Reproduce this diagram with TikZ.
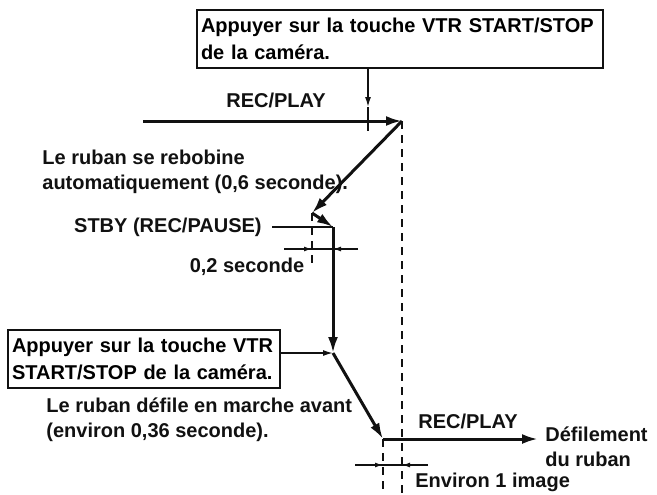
\documentclass[tikz,border=0pt]{standalone}
\usepackage{fontspec}
\setmainfont{Liberation Sans}
\usepackage{xcolor}
\usepackage{tikz}
\usetikzlibrary{arrows.meta,positioning,calc}
\definecolor{Ink}{HTML}{111111}
\tikzset{
  keybox/.style={draw=Ink,line width=1pt,align=left,inner xsep=2pt,inner ysep=3pt,
              minimum height=29pt,font=\fontsize{10}{13.5}\selectfont\bfseries},
  tape/.style={-{Latex[length=8pt,width=5pt]},line width=1.5pt,draw=Ink},
  cue/.style={-{Latex[length=5pt,width=3pt]},line width=0.75pt,draw=Ink},
  guide/.style={dashed,dash pattern=on 4pt off 3pt,line width=0.7pt,draw=Ink},
  dimline/.style={-{Latex[length=4pt,width=2.5pt]},line width=0.7pt,draw=Ink},
  note/.style={font=\fontsize{10}{12.5}\selectfont\bfseries,text=Ink,inner sep=1pt}
}
\begin{document}
\begin{tikzpicture}[x=0.5pt,y=-0.5pt]
  \useasboundingbox (0,0) rectangle (657,494);
  % points of the tape trace
  \coordinate (start) at (143,121);
  \coordinate (peak) at (402,121);
  \coordinate (stby) at (312,213);
  \coordinate (kink) at (333,227);
  \coordinate (resume) at (333,353);
  \coordinate (low) at (383,439);
  \coordinate (stop) at (538,439);
  \coordinate (bottom) at (0,494);
  \coordinate (cue1) at (368,107);
  \coordinate (gapy) at (0,249);
  \coordinate (framey) at (0,465);
  % boxes
  \node[keybox,text width=199pt] (key1) at (400,39) {Appuyer sur la touche VTR START/STOP\\de la caméra.};
  \node[keybox,text width=132pt] (key2) at (144,359) {Appuyer sur la touche VTR\\START/STOP de la caméra.};
  % texts
  \node[note] (play1) at (276,100) {REC/PLAY};
  \node[note,anchor=west,align=left] (rewind) at (40,172) {Le ruban se rebobine\\automatiquement (0,6 seconde).};
  \node[note,anchor=east] (pause) at (264,227) {STBY (REC/PAUSE)};
  \node[note] (gap) at (247,267) {0,2 seconde};
  \node[note,anchor=west,align=left] (advance) at (44,420) {Le ruban défile en marche avant\\(environ 0,36 seconde).};
  \node[note] (play2) at (468,421) {REC/PLAY};
  \node[note,anchor=west,align=left] (tapeend) at (543,447) {Défilement\\du ruban};
  \node[note,anchor=west] (frame) at (413,482) {Environ 1 image};
  % guides
  \draw[guide] (peak) -- (peak |- bottom);
  \draw[guide] (stby) -- ++(0,52);
  \draw[guide] (low) -- (low |- bottom);
  % trace
  \draw[tape] (start) -- (peak);
  \draw[tape] (peak) -- (stby);
  \draw[tape] (stby) -- (kink);
  \draw[tape] (kink) -- (resume);
  \draw[tape] (resume) -- (low);
  \draw[tape] (low) -- (stop);
  % cues
  \draw[cue] (key1.south -| cue1) -- (cue1);
  \draw[line width=0.75pt,draw=Ink] (cue1) -- ++(0,24);
  \draw[cue] (key2.east |- resume) -- (resume);
  \draw[line width=0.6pt,draw=Ink,shorten <=4pt] (pause.east) -- (kink);
  % dimensions
  \draw[line width=0.7pt,draw=Ink] ($(stby |- gapy)+(-28,0)$) -- ($(kink |- gapy)+(25,0)$);
  \draw[dimline] ($(stby |- gapy)+(-28,0)$) -- (stby |- gapy);
  \draw[dimline] ($(kink |- gapy)+(25,0)$) -- (kink |- gapy);
  \draw[line width=0.7pt,draw=Ink] ($(low |- framey)+(-28,0)$) -- ($(peak |- framey)+(26,0)$);
  \draw[dimline] ($(low |- framey)+(-28,0)$) -- (low |- framey);
  \draw[dimline] ($(peak |- framey)+(26,0)$) -- (peak |- framey);
\end{tikzpicture}
\end{document}
